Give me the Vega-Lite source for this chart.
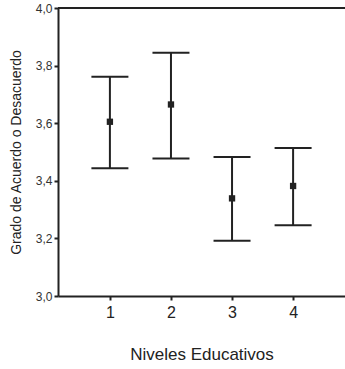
{
  "$schema": "https://vega.github.io/schema/vega-lite/v6.json",
  "autosize": "none",
  "width": 287,
  "height": 288,
  "padding": {"left": 58, "top": 8, "right": 0, "bottom": 73},
  "background": "white",
  "config": {
    "view": {"stroke": null},
    "font": "Liberation Sans",
    "axis": {"grid": false, "domainColor": "#222", "domainWidth": 2, "tickColor": "#222", "tickWidth": 2, "tickSize": 4, "labelFont": "Liberation Sans", "titleFont": "Liberation Sans", "titleFontWeight": "normal", "titleColor": "#222", "labelColor": "#333"}
  },
  "data": {"values": [
    {"nivel": "1", "media": 3.605, "lo": 3.444, "hi": 3.761},
    {"nivel": "2", "media": 3.665, "lo": 3.477, "hi": 3.845},
    {"nivel": "3", "media": 3.339, "lo": 3.192, "hi": 3.483},
    {"nivel": "4", "media": 3.382, "lo": 3.246, "hi": 3.514}
  ]},
  "encoding": {
    "x": {"field": "nivel", "type": "ordinal", "scale": {"type": "point", "padding": 0.85},
      "axis": {"title": "Niveles Educativos", "labelAngle": 0, "labelFontSize": 16, "labelPadding": 4, "titleFontSize": 17, "titlePadding": 26, "labelColor": "#222"}}
  },
  "layer": [
    {"mark": {"type": "rule", "color": "#222", "strokeWidth": 2},
     "encoding": {
       "y": {"field": "lo", "type": "quantitative", "scale": {"domain": [3, 4], "nice": false, "zero": false},
         "axis": {"title": "Grado de Acuerdo o Desacuerdo", "values": [3, 3.2, 3.4, 3.6, 3.8, 4], "labelExpr": "replace(format(datum.value, '.1f'), '.', ',')", "labelFontSize": 12, "labelPadding": 2, "titleFontSize": 14, "titlePadding": 12}},
       "y2": {"field": "hi"}
     }},
    {"mark": {"type": "tick", "color": "#222", "opacity": 1, "thickness": 2, "size": 37, "orient": "horizontal"},
     "encoding": {"y": {"field": "lo", "type": "quantitative"}}},
    {"mark": {"type": "tick", "color": "#222", "opacity": 1, "thickness": 2, "size": 37, "orient": "horizontal"},
     "encoding": {"y": {"field": "hi", "type": "quantitative"}}},
    {"mark": {"type": "square", "color": "#222", "filled": true, "opacity": 1, "size": 40},
     "encoding": {"y": {"field": "media", "type": "quantitative"}}},
    {"mark": {"type": "rule", "color": "#222", "strokeWidth": 2},
     "encoding": {"y": {"datum": 4}, "x": {"value": 0}, "x2": {"value": 287}}}
  ]
}
